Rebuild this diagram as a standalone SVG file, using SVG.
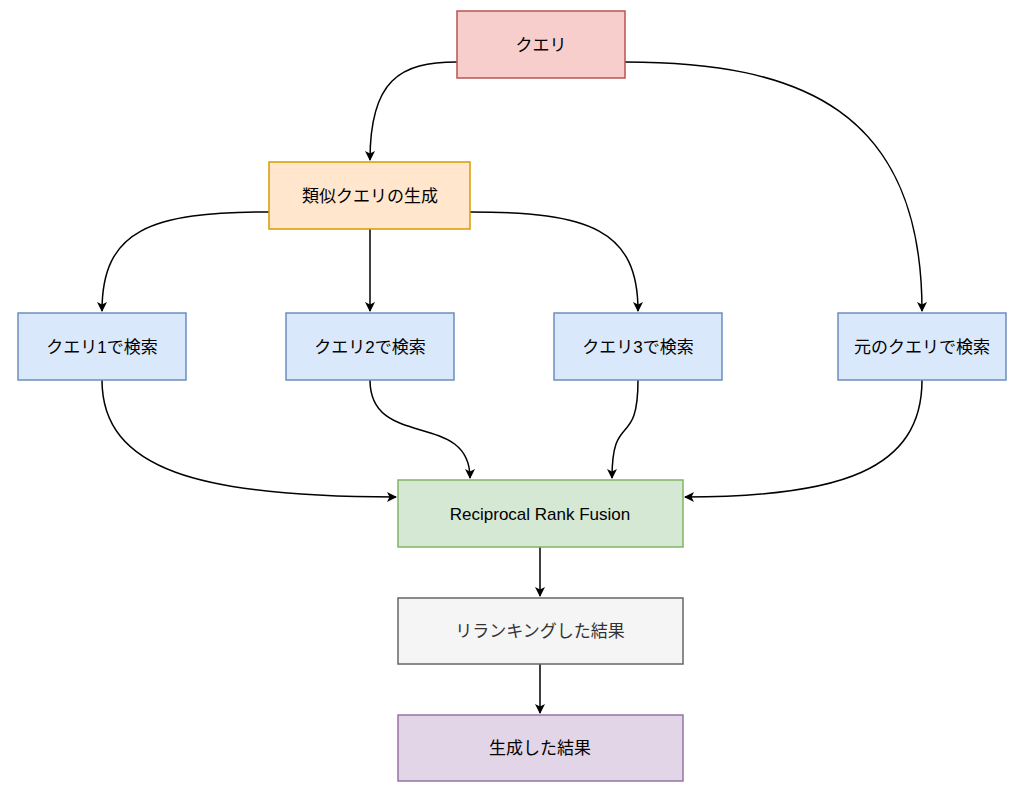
<svg xmlns="http://www.w3.org/2000/svg" width="1023" height="794" viewBox="0 0 1023 794">
<style>
text{font-family:"Liberation Sans","Noto Sans CJK JP",sans-serif;font-size:17px;text-anchor:middle;dominant-baseline:central;fill:#000}
.c{fill:none;stroke:#000;stroke-width:1.5;marker-end:url(#a)}
rect{stroke-width:1.5}
</style>
<defs><marker id="a" markerWidth="10" markerHeight="10" refX="9" refY="5" orient="auto" markerUnits="userSpaceOnUse"><path d="M0,0 L10,5 L0,10 L2.5,5 Z" fill="#000"/></marker></defs>
<rect width="1023" height="794" fill="#fff"/>
<g id="connectors">
<path class="c" d="M457,62 C400,62 370,80 370,160"/>
<path class="c" d="M625,62 C800,62 922,110 922,311"/>
<path class="c" d="M269,212 C150,212 102,230 102,311"/>
<path class="c" d="M370,229 L370,311"/>
<path class="c" d="M470,212 C590,212 638,230 638,311"/>
<path class="c" d="M102,380 C102,470 200,497 396,497"/>
<path class="c" d="M370,380 C370,450 470,410 470,478"/>
<path class="c" d="M638,380 C638,450 612,410 612,478"/>
<path class="c" d="M922,380 C922,470 840,497 685,497"/>
<path class="c" d="M540,547 L540,596"/>
<path class="c" d="M540,664 L540,713"/>
</g>
<g id="n1"><rect x="457" y="11" width="168" height="67" fill="#f8cecc" stroke="#b85450"/><text x="541" y="45">クエリ</text></g>
<g id="n2"><rect x="269" y="162" width="201" height="67" fill="#ffe6cc" stroke="#d79b00"/><text x="370" y="196">類似クエリの生成</text></g>
<g id="n3"><rect x="18" y="313" width="168" height="67" fill="#dae8fc" stroke="#6c8ebf"/><text x="102" y="347">クエリ1で検索</text></g>
<g id="n4"><rect x="286" y="313" width="168" height="67" fill="#dae8fc" stroke="#6c8ebf"/><text x="370" y="347">クエリ2で検索</text></g>
<g id="n5"><rect x="554" y="313" width="168" height="67" fill="#dae8fc" stroke="#6c8ebf"/><text x="638" y="347">クエリ3で検索</text></g>
<g id="n6"><rect x="838" y="313" width="168" height="67" fill="#dae8fc" stroke="#6c8ebf"/><text x="922" y="347">元のクエリで検索</text></g>
<g id="n7"><rect x="398" y="480" width="285" height="67" fill="#d5e8d4" stroke="#82b366"/><text x="540" y="514">Reciprocal Rank Fusion</text></g>
<g id="n8"><rect x="398" y="598" width="285" height="66" fill="#f5f5f5" stroke="#666666"/><text x="540" y="631" style="fill:#333">リランキングした結果</text></g>
<g id="n9"><rect x="398" y="715" width="285" height="66" fill="#e1d5e7" stroke="#9673a6"/><text x="540" y="748">生成した結果</text></g>
</svg>
